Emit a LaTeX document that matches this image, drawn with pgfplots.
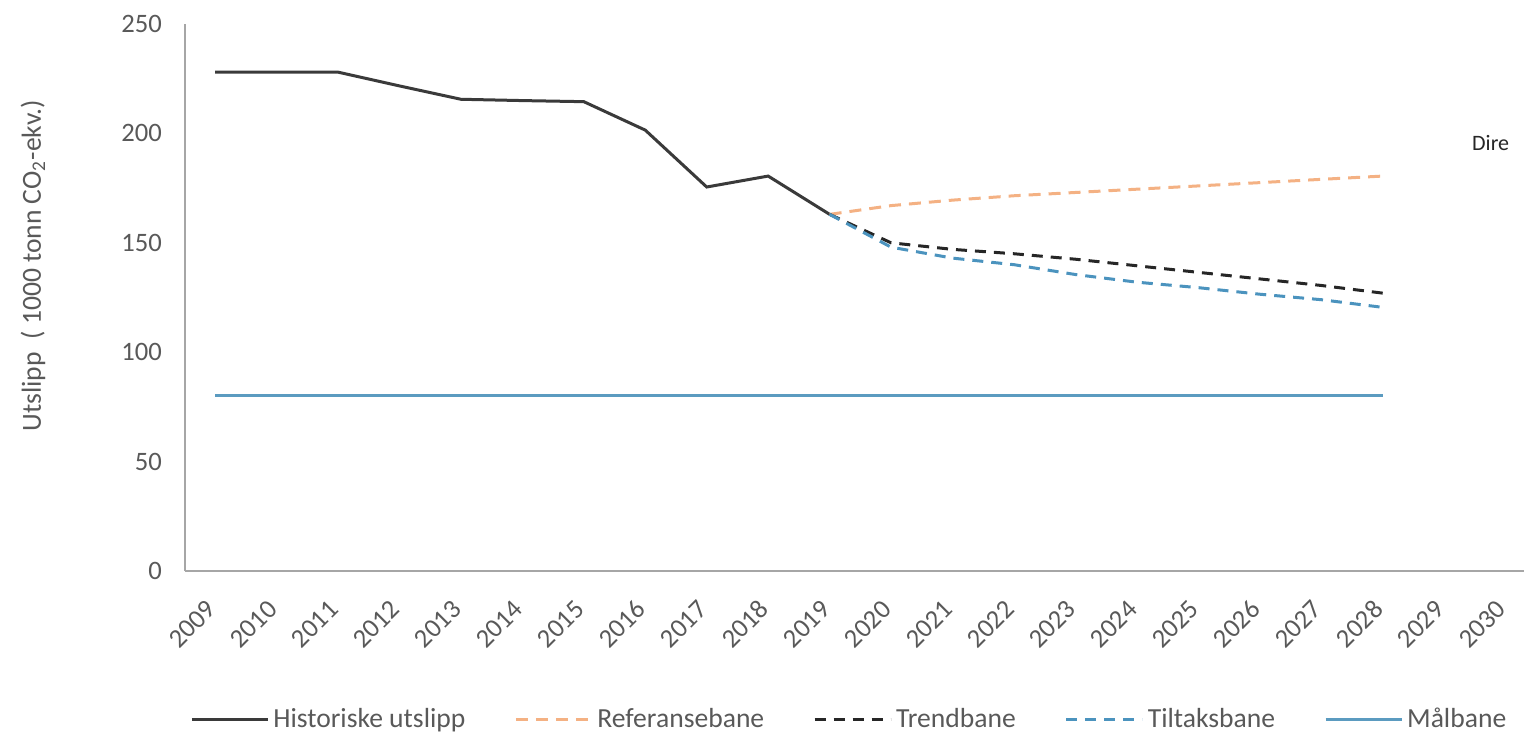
\documentclass[border=0pt]{standalone}
\usepackage{fontspec}
\setmainfont{Carlito}
\usepackage{pgfplots}
\pgfplotsset{compat=1.18}
\definecolor{histc}{HTML}{3A3A3A}
\definecolor{refc}{HTML}{F4B183}
\definecolor{trendc}{HTML}{262626}
\definecolor{tiltc}{HTML}{4B93BE}
\definecolor{malc}{HTML}{5B9BC0}
\definecolor{tickc}{HTML}{595959}
\definecolor{axc}{HTML}{A6A6A6}
\begin{document}
\begin{tikzpicture}
\path[use as bounding box] (0,0) rectangle (762pt,367.5pt);
\begin{axis}[
  at={(92.5pt,82pt)}, anchor=south west,
  scale only axis, width=669.5pt, height=273.5pt,
  xmin=2008.51, xmax=2030.3, ymin=0, ymax=250,
  axis x line=bottom, axis y line=left,
  axis line style={-, draw=axc, line width=0.9pt},
  xtick={2009,...,2030}, ytick={0,50,...,250},
  major tick length=0pt,
  clip=false,
  tick label style={font=\fontsize{13.3}{15}\selectfont, text=tickc},
  /pgf/number format/assume math mode=true,
  /pgf/number format/1000 sep={},
  xticklabel style={xshift=0.5pt, yshift=-14.5pt, rotate=45, anchor=east},
  yticklabel style={xshift=-8pt},
  ylabel={Utslipp\ \ ( 1000 tonn CO\textsubscript{2}-ekv.)},
  ylabel style={at={(axis description cs:-0.1135,0.558)}, anchor=center, font=\fontsize{13.8}{15}\selectfont, text=tickc},
  legend style={at={(axis description cs:0.0037,-0.2706)}, anchor=west, draw=none, fill=none, inner sep=0pt,
    font=\fontsize{13.8}{15}\selectfont, text=tickc, legend columns=5,
    /tikz/every even column/.append style={column sep=22.5pt}},
  legend image code/.code={\draw[#1] (0pt,0pt) -- (38pt,0pt);},
]
\addplot[histc, line width=1.5pt] coordinates {
 (2009,228) (2010,228) (2011,228) (2012,221.7) (2013,215.6) (2014,215) (2015,214.5)
 (2016,201.5) (2017,175.5) (2018,180.5) (2019,163)};
\addlegendentry{Historiske utslipp}
\addplot[refc, line width=1.5pt, dash pattern=on 6pt off 4pt] coordinates {
 (2019,163) (2020,167) (2021,169.5) (2022,171.5) (2023,173) (2024,174.5)
 (2025,176) (2026,177.5) (2027,179) (2028,180.5)};
\addlegendentry{Referansebane}
\addplot[trendc, line width=1.5pt, dash pattern=on 5.5pt off 4pt] coordinates {
 (2019,163) (2020,150) (2021,147) (2022,145) (2023,142.5) (2024,139.5)
 (2025,136.5) (2026,133.5) (2027,130.5) (2028,127)};
\addlegendentry{Trendbane}
\addplot[tiltc, line width=1.5pt, dash pattern=on 5.5pt off 4pt] coordinates {
 (2019,163) (2020,148) (2021,143) (2022,140) (2023,135.5) (2024,132)
 (2025,129.5) (2026,126.5) (2027,124) (2028,120.5)};
\addlegendentry{Tiltaksbane}
\addplot[malc, line width=1.5pt] coordinates {
 (2009,80) (2010,80) (2011,80) (2012,80) (2013,80) (2014,80) (2015,80) (2016,80) (2017,80) (2018,80)
 (2019,80) (2020,80) (2021,80) (2022,80) (2023,80) (2024,80) (2025,80) (2026,80) (2027,80) (2028,80)};
\addlegendentry{Målbane}
\node[anchor=west, font=\fontsize{11}{13}\selectfont, text=black!85, inner sep=0pt] at (axis cs:2029.45,195.5) {Dire};
\end{axis}
\end{tikzpicture}
\end{document}
